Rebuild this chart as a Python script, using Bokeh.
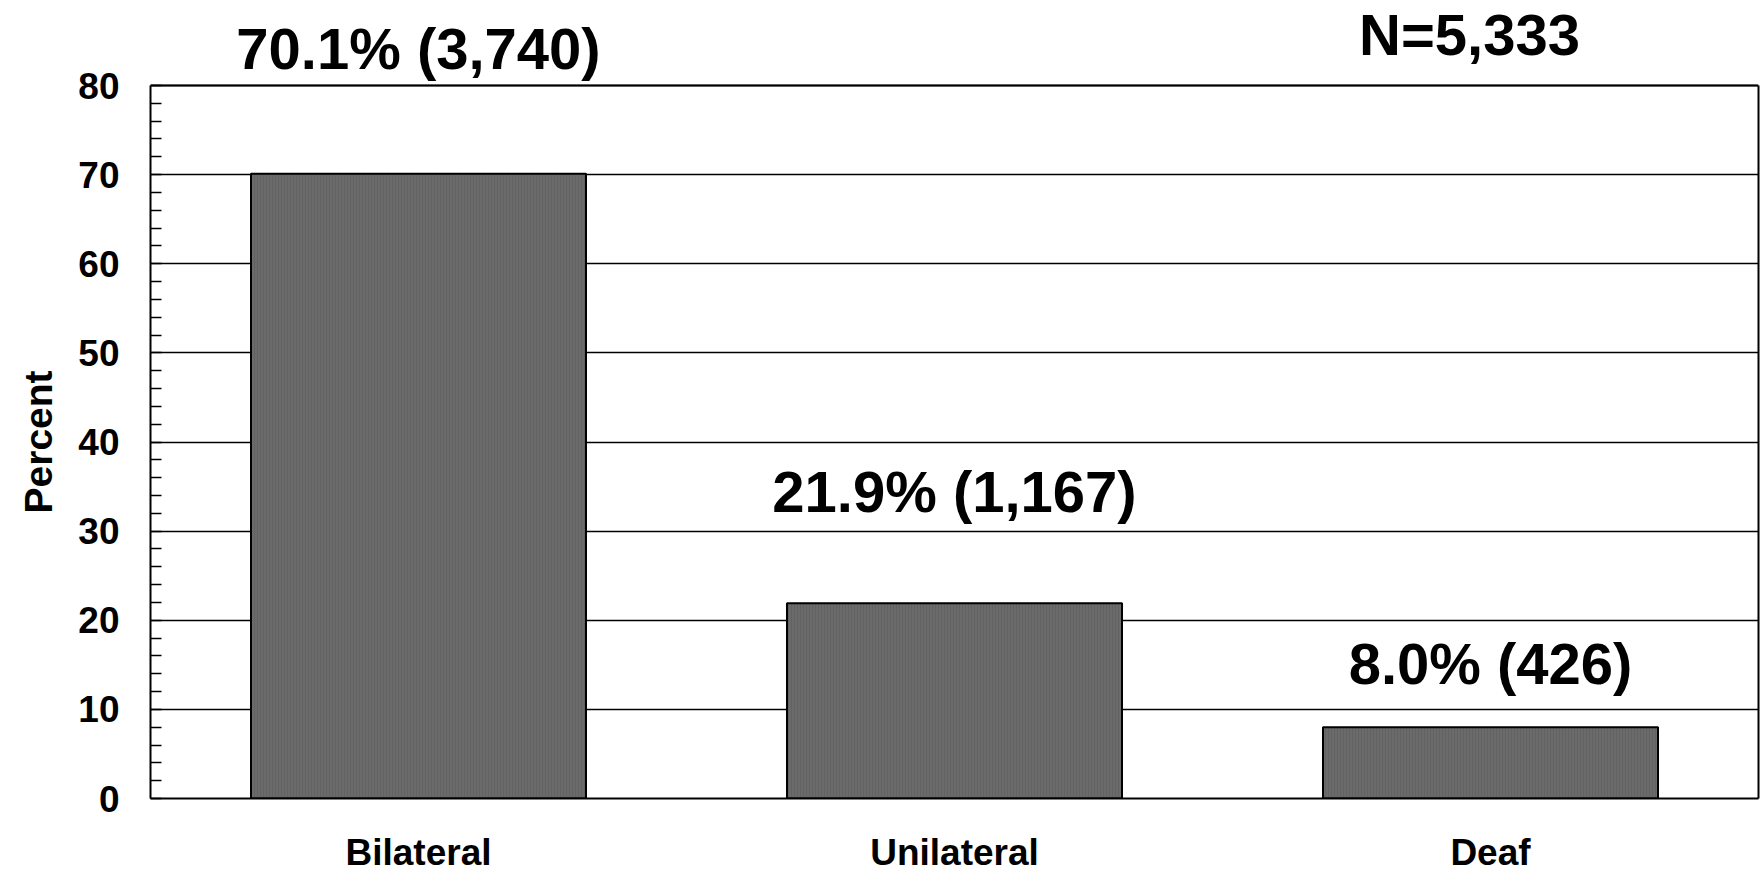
from bokeh.plotting import figure
from bokeh.models import (ColumnDataSource, FactorRange, Range1d, Span, Title,
                          SingleIntervalTicker, FixedTicker, LinearAxis)
from bokeh.core.properties import value
from bokeh.embed import file_html
from bokeh.resources import INLINE

# ---- data ----
categories = ["Bilateral", "Unilateral", "Deaf"]
percents = [70.1, 21.9, 8.0]
counts = [3740, 1167, 426]
label_y = [84.1, 34.4, 15.1]
total_n = 5333
n_label_y = 85.7
y_max = 80

labels = [f"{p:.1f}% ({c:,})" for p, c in zip(percents, counts)]

src = ColumnDataSource(dict(cat=categories, pct=percents, lab=labels, ly=label_y))
nsrc = ColumnDataSource(dict(cat=[categories[-1]], ly=[n_label_y], lab=[f"N={total_n:,}"]))

FONT = "Liberation Sans"

H, W = 876, 1761
BOTTOM = 78
frame_h = H - BOTTOM
px_per_unit = 713 / y_max
y_top = frame_h / px_per_unit

p = figure(width=W, height=H, x_range=FactorRange(*categories),
           y_range=Range1d(0, y_top), output_backend="svg",
           toolbar_location=None, min_border_left=150, min_border_right=3,
           min_border_top=0, min_border_bottom=BOTTOM)
p.background_fill_color = "white"
p.border_fill_color = "white"
p.outline_line_color = None

p.vbar(x="cat", top="pct", width=0.625, source=src, fill_color="#6b6b6b",
       line_color="black", line_width=2, hatch_pattern="|", hatch_scale=3,
       hatch_color="#5c5c5c", hatch_weight=1, hatch_alpha=0.6)

# grid
p.xgrid.grid_line_color = None
p.ygrid.grid_line_color = "black"
p.ygrid.grid_line_width = 1.5
p.ygrid.level = "underlay"
p.ygrid.ticker = SingleIntervalTicker(interval=10)

# top border of the plot box
p.add_layout(Span(location=y_max, dimension="width", line_color="black",
                  line_width=2))

# y axis
ya = p.yaxis[0]
ya.bounds = (0, y_max)
ya.ticker = SingleIntervalTicker(interval=10, num_minor_ticks=5)
ya.axis_line_color = "black"
ya.axis_line_width = 2
ya.major_tick_in = 0
ya.major_tick_out = 0
ya.minor_tick_in = 11
ya.minor_tick_out = 0
ya.minor_tick_line_color = "black"
ya.minor_tick_line_width = 1.5
ya.major_label_standoff = 31
ya.major_label_text_font = FONT
ya.major_label_text_font_style = "bold"
ya.major_label_text_font_size = "37px"
ya.major_label_text_color = "black"

# y axis title, placed along the 0-80 span
p.add_layout(Title(text="Percent", align="left", vertical_align="top", offset=285,
                   text_font=FONT, text_font_style="bold", text_font_size="39px",
                   text_color="black", standoff=28), "left")

# right border as a bare axis
ra = LinearAxis(bounds=(0, y_max), ticker=FixedTicker(ticks=[]),
                axis_line_color="black", axis_line_width=2,
                major_tick_in=0, major_tick_out=0, minor_tick_line_color=None,
                major_label_text_font_size="0px")
p.add_layout(ra, "right")

# x axis
xa = p.xaxis[0]
xa.axis_line_color = "black"
xa.axis_line_width = 2
xa.major_tick_in = 0
xa.major_tick_out = 0
xa.minor_tick_line_color = None
xa.major_label_standoff = 33
xa.major_label_text_font = FONT
xa.major_label_text_font_style = "bold"
xa.major_label_text_font_size = "37px"
xa.major_label_text_color = "black"

p.text(x="cat", y="ly", text="lab", source=src, text_align="center",
       text_baseline="alphabetic", text_font=value(FONT), text_font_style="bold",
       text_font_size="58px", text_color="black")
p.text(x="cat", y="ly", text="lab", source=nsrc, text_align="center",
       x_offset=-21, text_baseline="alphabetic", text_font=value(FONT),
       text_font_style="bold", text_font_size="58px", text_color="black")

open("out.html", "w").write(file_html(p, INLINE))
